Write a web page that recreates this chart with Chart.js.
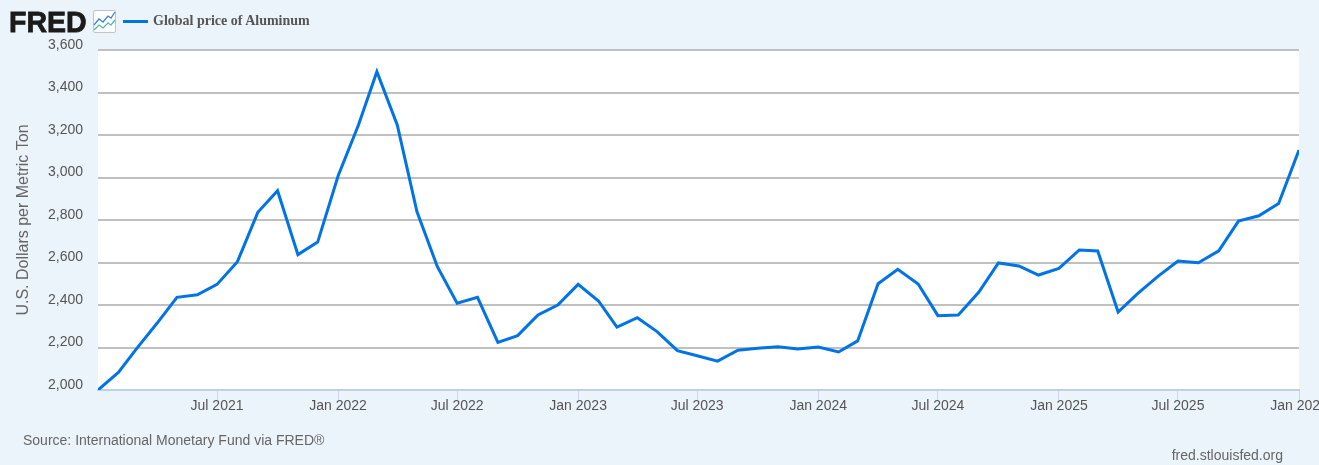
<!DOCTYPE html>
<html lang="en">
<head>
    <meta charset="UTF-8">
    <title>Global price of Aluminum</title>
    <style>
        html, body { margin: 0; width: 1319px; height: 465px; overflow: hidden; background: #ebf3fb; }
        body { position: relative; font-family: 'Liberation Sans', Arial, sans-serif; }
        canvas { position: absolute; left: 0; top: 0; }
        .logo { position: absolute; left: 9px; top: 5px; font-size: 30px; line-height: 34px; font-weight: bold; color: #1b1b1b; transform-origin: left center; transform: scaleX(0.95); -webkit-text-stroke: 0.8px #1b1b1b; }
        .icon { position: absolute; left: 93px; top: 10px; }
        .key { position: absolute; left: 123px; top: 20px; width: 25px; height: 3px; background: #0073e6; }
        .name { position: absolute; left: 153px; top: 13px; font: bold 14px/16px 'Liberation Serif', Georgia, serif; color: #555; }
        .source { position: absolute; left: 23px; top: 432px; font-size: 14px; line-height: 16px; color: #666; }
        .site { position: absolute; right: 36px; top: 447px; font-size: 14px; line-height: 16px; color: #666; }
    </style>
    <script src="https://cdn.jsdelivr.net/npm/chart.js"></script>
</head>
<body>
    <canvas id="priceChart" width="1380" height="465"></canvas>
    <div class="logo">FRED</div>
    <svg class="icon" width="23" height="23" viewBox="0 0 23 23">
        <rect x="0.5" y="0.5" width="22" height="22" rx="1.5" fill="#fff" stroke="#c4c4c4"/>
        <polyline points="1,15 6,9 10,12 15,6 18,8 22,2" fill="none" stroke="#3a83d8" stroke-width="1.3"/>
        <polyline points="1,20 6,15 10,18 15,13 18,15 22,10" fill="none" stroke="#4fb8a0" stroke-width="1.3"/>
    </svg>
    <div class="key"></div>
    <div class="name">Global price of Aluminum</div>
    <div class="source">Source: International Monetary Fund via FRED®</div>
    <div class="site">fred.stlouisfed.org</div>

    <script>
        const months = [
            '2021-01', '2021-02', '2021-03', '2021-04', '2021-05', '2021-06', '2021-07', '2021-08', '2021-09', '2021-10', '2021-11', '2021-12',
            '2022-01', '2022-02', '2022-03', '2022-04', '2022-05', '2022-06', '2022-07', '2022-08', '2022-09', '2022-10', '2022-11', '2022-12',
            '2023-01', '2023-02', '2023-03', '2023-04', '2023-05', '2023-06', '2023-07', '2023-08', '2023-09', '2023-10', '2023-11', '2023-12',
            '2024-01', '2024-02', '2024-03', '2024-04', '2024-05', '2024-06', '2024-07', '2024-08', '2024-09', '2024-10', '2024-11', '2024-12',
            '2025-01', '2025-02', '2025-03', '2025-04', '2025-05', '2025-06', '2025-07', '2025-08', '2025-09', '2025-10', '2025-11', '2025-12',
            '2026-01'
        ];
        const prices = [
            2000, 2083, 2196, 2315, 2436, 2448, 2497, 2604, 2836, 2938, 2637, 2696,
            3007, 3247, 3498, 3247, 2839, 2580, 2408, 2436, 2224, 2256, 2353, 2400,
            2497, 2419, 2296, 2340, 2275, 2185, 2161, 2136, 2187, 2196, 2204, 2193,
            2202, 2179, 2231, 2500, 2568, 2499, 2350, 2353, 2460, 2598, 2584, 2541,
            2572, 2659, 2654, 2367, 2455, 2536, 2607, 2599, 2655, 2795, 2820, 2878,
            3129
        ];
        const tickMonths = ['2021-07', '2022-01', '2022-07', '2023-01', '2023-07', '2024-01', '2024-07', '2025-01', '2025-07', '2026-01'];
        const tickLabels = ['Jul 2021', 'Jan 2022', 'Jul 2022', 'Jan 2023', 'Jul 2023', 'Jan 2024', 'Jul 2024', 'Jan 2025', 'Jul 2025', 'Jan 2026'];
        const yTicks = [2000, 2200, 2400, 2600, 2800, 3000, 3200, 3400, 3600];

        const toTime = (m) => Date.parse(m + '-01T00:00:00Z');

        // white plot area behind the lines
        const plotBackground = {
            id: 'plotBackground',
            beforeDraw(chart) {
                const a = chart.chartArea;
                chart.ctx.fillStyle = '#fff';
                chart.ctx.fillRect(a.left, a.top, a.right - a.left, a.bottom - a.top);
            }
        };

        new Chart(document.getElementById('priceChart'), {
            type: 'line',
            plugins: [plotBackground],
            data: {
                datasets: [{
                    data: months.map((m, i) => ({ x: toTime(m), y: prices[i] })),
                    borderColor: '#0073e6',
                    borderWidth: 3,
                    pointRadius: 0,
                    tension: 0
                }]
            },
            options: {
                responsive: false,
                animation: false,
                layout: { autoPadding: false, padding: { top: 50, right: 81, bottom: 35, left: 0 } },
                plugins: { legend: { display: false }, tooltip: { enabled: false } },
                scales: {
                    x: {
                        type: 'linear',
                        min: toTime(months[0]),
                        max: toTime(months[months.length - 1]),
                        afterFit(scale) { scale.height = 40; },
                        afterBuildTicks(scale) { scale.ticks = tickMonths.map((m) => ({ value: toTime(m) })); },
                        grid: { drawOnChartArea: false, color: '#ccd6eb', lineWidth: 1, tickLength: 10 },
                        border: { color: '#c0cfe2', width: 2 },
                        ticks: {
                            autoSkip: false,
                            maxRotation: 0,
                            padding: -2,
                            color: '#555',
                            font: { family: "'Liberation Sans', Arial, sans-serif", size: 14 },
                            callback: (v) => tickLabels[tickMonths.findIndex((m) => toTime(m) === v)]
                        }
                    },
                    y: {
                        min: 2000,
                        max: 3600,
                        afterFit(scale) { scale.width = 98; },
                        afterBuildTicks(scale) { scale.ticks = yTicks.map((v) => ({ value: v })); },
                        title: {
                            display: true,
                            text: 'U.S. Dollars per Metric Ton',
                            color: '#666',
                            font: { family: "'Liberation Sans', Arial, sans-serif", size: 16, weight: 'normal' },
                            padding: { top: 14, bottom: 0 }
                        },
                        grid: {
                            drawTicks: false,
                            lineWidth: 2,
                            color: (c) => (c.tick.value === 2000 ? 'rgba(0,0,0,0)' : '#c0c0c0')
                        },
                        border: { display: false },
                        ticks: {
                            padding: 15,
                            labelOffset: -5,
                            color: '#555',
                            font: { family: "'Liberation Sans', Arial, sans-serif", size: 14 },
                            callback: (v) => v.toLocaleString('en-US')
                        }
                    }
                }
            }
        });
    </script>
</body>
</html>
